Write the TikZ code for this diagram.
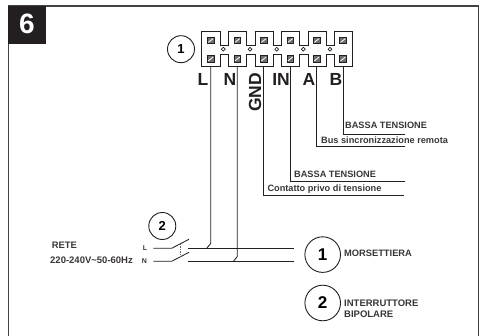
\documentclass[tikz,border=0pt]{standalone}
\usepackage{fontspec}
\setmainfont{Liberation Sans}
\definecolor{ink}{HTML}{231F20}
\tikzset{
 wire/.style={draw=ink,line width=0.85pt},
 frameline/.style={draw=ink!85,line width=1.1pt},
 numcircle/.style={circle,draw=ink,line width=0.9pt,fill=white,inner sep=0pt,font=\bfseries},
 lab/.style={inner sep=0pt,font=\bfseries,text=ink!90,anchor=west},
 term/.style={inner sep=0pt,text=ink,font=\bfseries\fontsize{17.5}{17.5}\selectfont},
 screw/.style={draw=ink,fill=ink!65,line width=0.7pt,minimum size=6.6pt,inner sep=0pt,rectangle},
 hole/.style={circle,draw=ink,fill=white,line width=0.7pt,minimum size=3.8pt,inner sep=0pt}
}
\begin{document}
\begin{tikzpicture}[x=1pt,y=-1pt]
\useasboundingbox (0,0) rectangle (485,336);
% frame
\draw[frameline] (8.7,336) -- (8.7,6) -- (478.7,6) -- (478.7,336);
\fill[ink] (8,5.7) rectangle (45.7,44);
\node[inner sep=0pt,text=white,font=\bfseries\fontsize{28}{28}\selectfont] (six) at (27,24) {6};
% terminal block outline
\draw[wire,line width=0.9pt]
 (201.7,31.7) -- (220,31.7) -- (220,45) -- (228.3,45) -- (228.3,31.7) -- (246.7,31.7) -- (246.7,45) -- (255,45) -- (255,31.7) -- (273.3,31.7) -- (273.3,45) -- (281.7,45) -- (281.7,31.7) -- (299.3,31.7) -- (299.3,45) -- (308.3,45) -- (308.3,31.7) -- (326,31.7) -- (326,45) -- (334.3,45) -- (334.3,31.7) -- (352.7,31.7)
 -- (352.7,66.7) -- (334.3,66.7) -- (334.3,54) -- (326,54) -- (326,66.7) -- (308.3,66.7) -- (308.3,54) -- (299.3,54) -- (299.3,66.7) -- (281.7,66.7) -- (281.7,54) -- (273.3,54) -- (273.3,66.7) -- (255,66.7) -- (255,54) -- (246.7,54) -- (246.7,66.7) -- (228.3,66.7) -- (228.3,54) -- (220,54) -- (220,66.7) -- (201.7,66.7) -- cycle;
% screws and holes
\foreach \n/\x in {a/210.7,b/237.3,c/263.7,d/290.3,e/316.7,f/343}{
  \node[screw] (\n1) at (\x,40.5) {};
  \node[screw] (\n2) at (\x,59) {};
  \draw[white,line width=0.8pt] (\x-2.4,42.4) -- (\x+2.4,38.6) (\x-2.4,60.9) -- (\x+2.4,57.1);
}
\foreach \n/\x in {1/223.3,2/250,3/276.7,4/303.3,5/330}{
  \node[hole] (h\n) at (\x,49.2) {};
}
% number 1 near block
\node[numcircle,minimum size=27pt,font=\bfseries\fontsize{13}{13}\selectfont] (c1top) at (181,49.2) {1};
% coordinates for wire ends
\coordinate (Ljoin) at (206.7,248.3);
\coordinate (Njoin) at (233.5,261.3);
\coordinate (ine) at (290.3,181.7);
\coordinate (ineR) at (405,181.7);
\coordinate (gnde) at (263.7,195.3);
\coordinate (gndR) at (403.7,195.3);
\coordinate (ae) at (316.7,146.7);
\coordinate (aeR) at (405,146.7);
\coordinate (be) at (343,134);
\coordinate (beR) at (405,134);
% wires
\draw[wire] (210.7,66.7) -- (210.7,243.5) -- (Ljoin);
\draw[wire] (237.3,66.7) -- (237.3,256.5) -- (Njoin);
\draw[wire] (263.7,66.7) -- (gnde) -- (gndR);
\draw[wire] (290.3,66.7) -- (ine) -- (ineR);
\draw[wire] (316.7,66.7) -- (ae) -- (aeR);
\draw[wire] (343,66.7) -- (be) -- (beR);
% terminal letters
\node[term] (tL) at (203,79.5) {L};
\node[term] (tN) at (230,79.5) {N};
\node[term] (tIN) at (281,79.5) {IN};
\node[term] (tA) at (309,79.5) {A};
\node[term] (tB) at (336,79.5) {B};
\node[term,rotate=90] (gnd) at (255,92.5) {GND};
% wire labels
\node[lab,font=\bfseries\fontsize{9.2}{9.2}\selectfont] (bt1) at (345,125.7) {BASSA TENSIONE};
\node[lab,font=\bfseries\fontsize{9.2}{9.2}\selectfont] (bus) at (321,140.6) {Bus sincronizzazione remota};
\node[lab,font=\bfseries\fontsize{9.2}{9.2}\selectfont] (bt2) at (294,174) {BASSA TENSIONE};
\node[lab,font=\bfseries\fontsize{9.2}{9.2}\selectfont] (con) at (267.3,189) {Contatto privo di tensione};
% mains
\coordinate (Ls) at (153.3,248.3);
\coordinate (La) at (171.7,248.3);
\coordinate (Lb) at (189,239.3);
\coordinate (Lc) at (188.3,248.3);
\coordinate (Le) at (294,248.3);
\coordinate (Ns) at (153.3,261.3);
\coordinate (Na) at (171.7,261.3);
\coordinate (Nb) at (189,252.3);
\coordinate (Nc) at (188.3,261.3);
\coordinate (Ne) at (294,261.3);
\draw[wire] (Ls) -- (La) -- (Lb);
\draw[wire] (Lc) -- (Le);
\draw[wire] (Ns) -- (Na) -- (Nb);
\draw[wire] (Nc) -- (Ne);
\draw[wire,draw=ink!70,dash pattern=on 1.5pt off 1pt] (180,244) -- (180,257);
\node[numcircle,minimum size=27pt,font=\bfseries\fontsize{13}{13}\selectfont] (c2sw) at (162.3,226) {2};
\node[lab,font=\bfseries\fontsize{9.4}{9.4}\selectfont] (rete) at (51.7,245.7) {RETE};
\node[lab,font=\bfseries\fontsize{9.5}{9.5}\selectfont] (volt) at (50,260) {220-240V\textasciitilde 50-60Hz};
\node[lab,font=\bfseries\fontsize{7}{7}\selectfont] (lL) at (142.7,248) {L};
\node[lab,font=\bfseries\fontsize{7}{7}\selectfont] (lN) at (141.7,261.5) {N};
% legend
\node[numcircle,minimum size=35.6pt,font=\bfseries\fontsize{17}{17}\selectfont] (leg1) at (322.7,254.6) {1};
\node[lab,font=\bfseries\fontsize{9.3}{9.3}\selectfont] (m) at (344,253) {MORSETTIERA};
\node[numcircle,minimum size=35.6pt,font=\bfseries\fontsize{17}{17}\selectfont] (leg2) at (322.7,303) {2};
\node[lab,font=\bfseries\fontsize{9.5}{11.2}\selectfont,align=left] (ib) at (344,309) {INTERRUTTORE\\BIPOLARE};
\end{tikzpicture}
\end{document}
